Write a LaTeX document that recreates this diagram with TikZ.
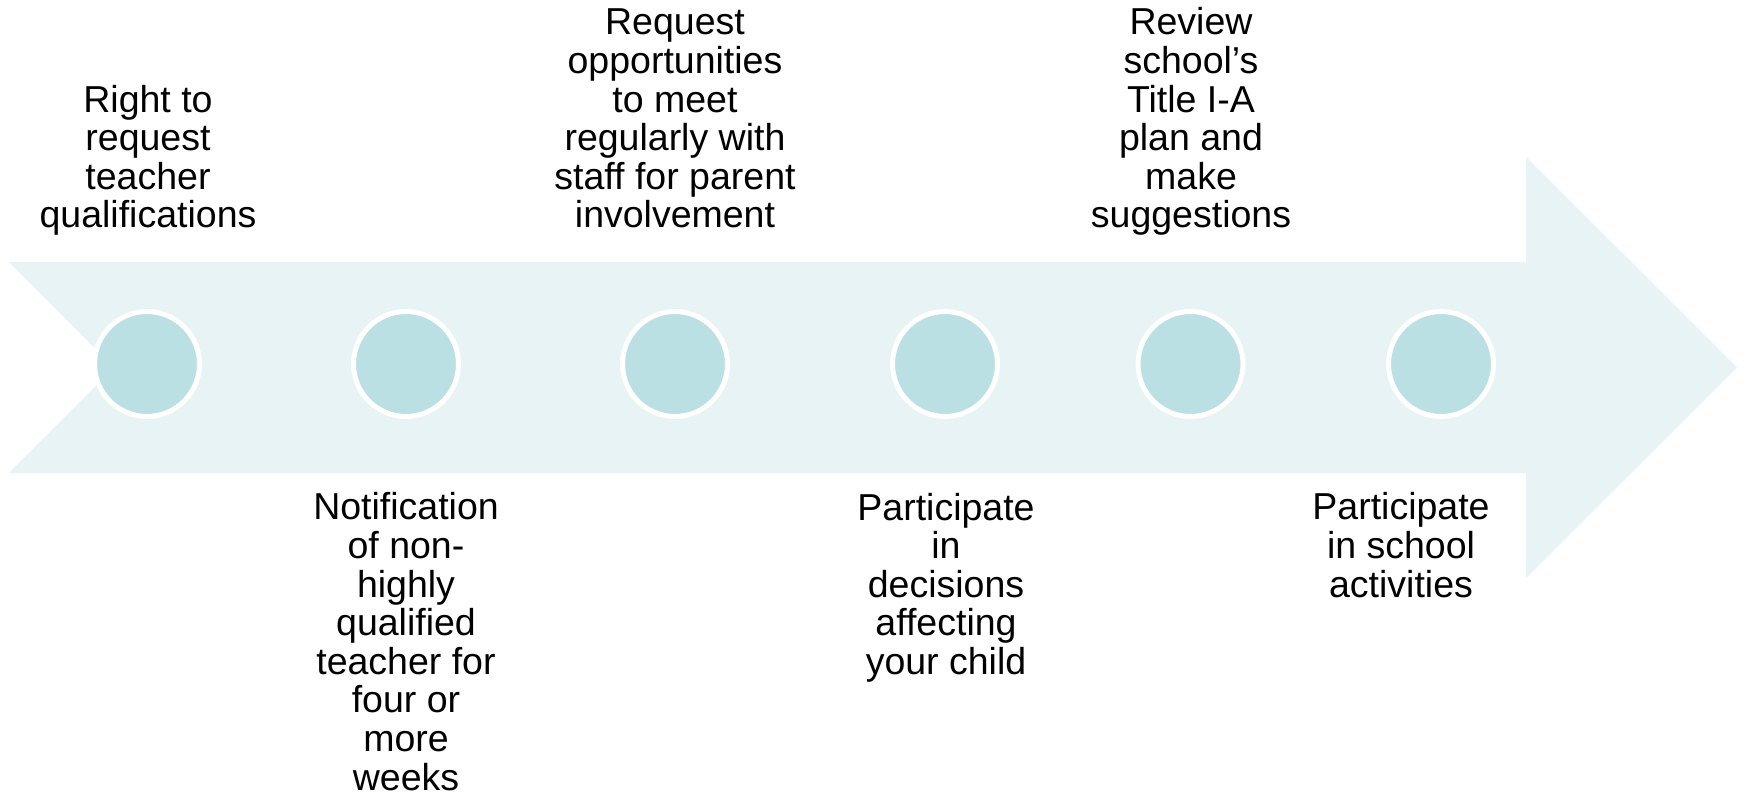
\documentclass[tikz,border=0pt]{standalone}
\usepackage{fontspec}
\setmainfont{Liberation Sans}
\usetikzlibrary{positioning}
\definecolor{arrowfill}{HTML}{E7F3F4}
\definecolor{dotfill}{HTML}{BBE0E3}
\tikzset{%
	% Specifications for style of nodes:
	base/.style = {inner sep=0pt, align=center, text=black, font=\fontsize{18.75}{19.3}\selectfont},
	toptext/.style = {base, anchor=base},
	bottomtext/.style = {base, anchor=base},
	dot/.style = {circle, fill=dotfill, draw=white, line width=2.5pt, minimum size=52.5pt, inner sep=0pt},
}
\begin{document}
\begin{tikzpicture}[x=0.5pt,y=-0.5pt]
		\useasboundingbox (0,0) rectangle (1745,796);
		% the big arrow
		\fill [arrowfill] (9,262) -- (1526,262) -- (1526,157) -- (1737,367.5) -- (1526,578) -- (1526,473) -- (9,473) -- (114,367.5) -- cycle;
		
		\node (D1) [dot] at (147,364) {};
		\node (D2) [dot] at (406,364) {};
		\node (D3) [dot] at (675,364) {};
		\node (D4) [dot] at (945,364) {};
		\node (D5) [dot] at (1190.5,364) {};
		\node (D6) [dot] at (1441,364) {};
		
		% base sits on the last line
		\node (Right) [toptext] at (148,228) {Right to\\request\\teacher\\qualifications};
		\node (Notify) [bottomtext] at (406,790) {Notification\\of non-\\highly\\qualified\\teacher for\\four or\\more\\weeks};
		\node (Meet) [toptext] at (675,228) {Request\\opportunities\\to meet\\regularly with\\staff for parent\\involvement};
		\node (Decide) [bottomtext] at (946,674.5) {Participate\\in\\decisions\\affecting\\your child};
		\node (Review) [toptext] at (1191,228) {Review\\school’s\\Title I-A\\plan and\\make\\suggestions};
		\node (Join) [bottomtext] at (1401,597) {Participate\\in school\\activities};
		
     \end{tikzpicture}
\end{document}
